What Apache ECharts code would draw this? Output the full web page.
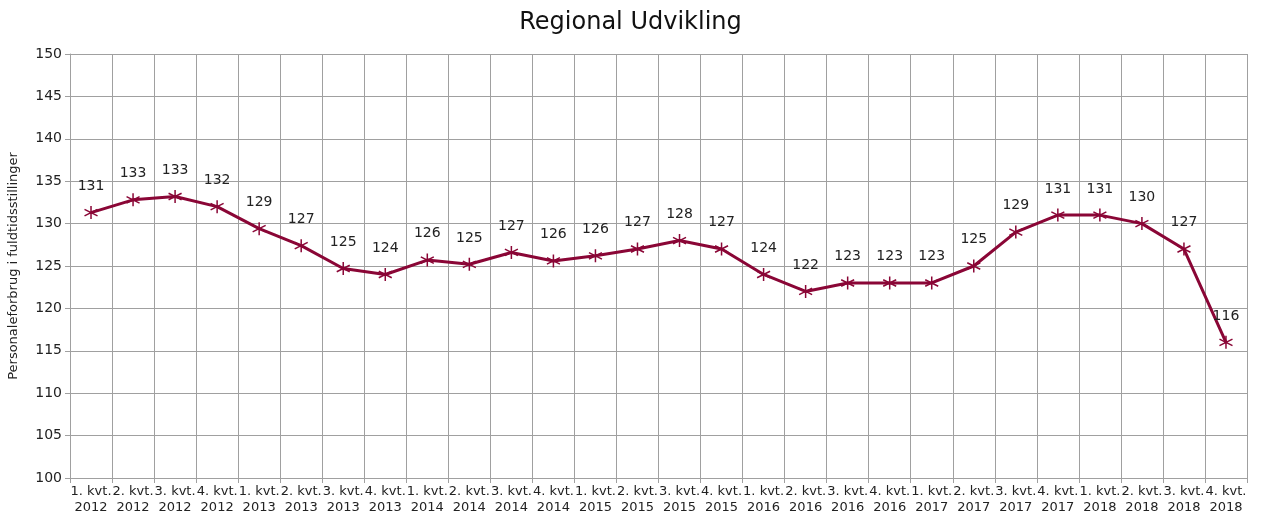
<!DOCTYPE html>
<html>
<head>
<meta charset="utf-8">
<script src="https://cdn.jsdelivr.net/npm/echarts@6/dist/echarts.min.js"></script>
<style>
  html, body { margin: 0; padding: 0; background: #fff; }
  #chart { width: 1261px; height: 525px; }
</style>
</head>
<body>
<div id="chart"></div>
<script>
const quarters = ["1. kvt.", "2. kvt.", "3. kvt.", "4. kvt."];
const years = [2012, 2013, 2014, 2015, 2016, 2017, 2018];
const categories = [];
years.forEach(y => quarters.forEach(q => categories.push(q + "\n" + y)));

const values = [
  131.3, 132.8, 133.2, 132.0, 129.4, 127.4, 124.7, 124.0,
  125.7, 125.2, 126.6, 125.6, 126.2, 127.0, 128.0, 127.0,
  124.0, 122.0, 123.0, 123.0, 123.0, 125.0, 129.0, 131.0,
  131.0, 130.0, 127.0, 116.0
];

const font = "DejaVu Sans";
const lineColor = "#8a0636";
const gridColor = "#a0a0a0";

const chart = echarts.init(document.getElementById("chart"));
chart.setOption({
  animation: false,
  title: {
    text: "Regional Udvikling",
    left: "center",
    top: 6,
    textStyle: { fontFamily: font, fontSize: 24, fontWeight: "normal", color: "#111" }
  },
  grid: { left: 70, right: 14, top: 54, bottom: 47, outerBoundsMode: "none" },
  xAxis: {
    type: "category",
    data: categories,
    boundaryGap: true,
    axisLine: { lineStyle: { color: gridColor } },
    axisTick: { show: true, length: 5, lineStyle: { color: gridColor } },
    splitLine: { show: true, lineStyle: { color: gridColor, width: 1 } },
    axisLabel: {
      interval: 0,
      fontFamily: font,
      fontSize: 13,
      color: "#222",
      lineHeight: 16,
      margin: 6
    }
  },
  yAxis: {
    type: "value",
    min: 100,
    max: 150,
    interval: 5,
    name: "Personaleforbrug i fuldtidsstillinger",
    nameLocation: "middle",
    nameGap: 50,
    nameTextStyle: { fontFamily: font, fontSize: 13, color: "#222" },
    axisLine: { show: true, lineStyle: { color: gridColor } },
    axisTick: { show: true, length: 5, lineStyle: { color: gridColor } },
    splitLine: { show: true, lineStyle: { color: gridColor, width: 1 } },
    axisLabel: { fontFamily: font, fontSize: 14, color: "#222", margin: 8 }
  },
  series: [{
    type: "line",
    data: values,
    symbol: "path://M0,-6L0,6M-5.2,-3L5.2,3M-5.2,3L5.2,-3",
    symbolSize: 13,
    showAllSymbol: true,
    lineStyle: { color: lineColor, width: 3 },
    itemStyle: { color: "transparent", borderColor: lineColor, borderWidth: 1.5 },
    label: {
      show: true,
      position: "top",
      distance: 12,
      fontFamily: font,
      fontSize: 14,
      color: "#222",
      formatter: p => Math.round(p.value)
    }
  }]
});
</script>
</body>
</html>
